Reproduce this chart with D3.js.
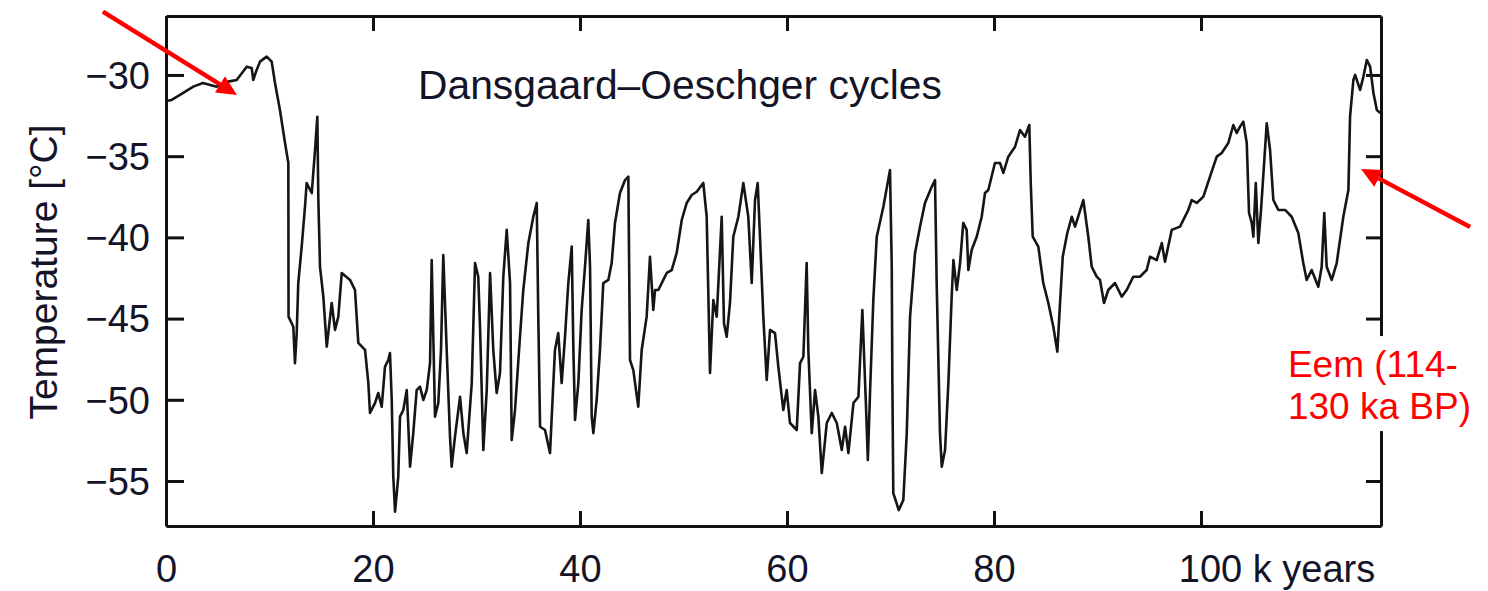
<!DOCTYPE html>
<html>
<head>
<meta charset="utf-8">
<script src="https://cdn.jsdelivr.net/npm/d3@7"></script>
<style>
  html, body { margin: 0; padding: 0; background: #fff; }
  svg { display: block; font-family: "Liberation Sans", Arial, sans-serif; }
</style>
</head>
<body>
<script>
// ice core temperature record (k years BP, deg C)
const years = [
  0,0.55,1.35,2.64,3.57,4.90,5.99,6.83,7.80,8.28,
  8.43,8.76,9.08,9.73,10.21,10.53,11.01,11.50,11.82,11.84,
  12.30,12.46,12.63,12.78,13.11,13.43,13.59,14.08,14.40,14.62,
  14.72,14.88,15.20,15.53,16.01,16.33,16.65,16.98,17.78,18.26,
  18.58,19.23,19.55,19.71,20.19,20.51,20.84,21.16,21.48,21.64,
  21.81,21.96,22.13,22.44,22.61,22.93,23.26,23.58,23.89,24.22,
  24.54,24.86,25.19,25.51,25.67,25.99,26.31,26.57,26.79,27.12,
  27.44,27.60,27.92,28.41,28.73,29.05,29.54,29.86,30.17,30.34,
  30.66,30.99,31.31,31.62,31.95,32.27,32.59,32.92,33.24,33.40,
  33.72,34.20,34.52,35.01,35.49,35.82,35.97,36.14,36.62,37.10,
  37.58,37.90,38.23,38.55,38.87,39.20,39.36,39.52,39.84,40.16,
  40.48,40.80,40.97,41.13,41.29,41.61,41.93,42.25,42.74,43.06,
  43.38,43.86,44.35,44.67,44.83,45.15,45.63,45.96,46.44,46.76,
  47.08,47.25,47.57,48.05,48.38,48.86,49.34,49.83,50.31,50.79,
  51.28,51.91,52.24,52.56,52.88,53.21,53.69,53.91,54.17,54.49,
  54.81,55.30,55.78,56.26,56.59,56.91,57.17,57.39,57.71,58.04,
  58.36,58.84,59.16,59.64,59.97,60.29,60.94,61.26,61.58,61.90,
  62.06,62.39,62.71,63.03,63.36,63.84,64.32,64.81,65.29,65.61,
  65.93,66.42,66.90,67.28,67.61,67.81,68.03,68.34,68.67,69.31,
  69.95,70.12,70.18,70.27,70.80,71.24,71.57,71.89,72.37,72.85,
  73.33,73.98,74.30,74.46,74.78,74.95,75.27,75.59,75.91,76.08,
  76.40,76.72,77.03,77.36,77.52,77.84,78.33,78.81,79.13,79.45,
  80.09,80.58,80.90,81.38,82.03,82.51,82.99,83.41,83.55,83.74,
  84.28,84.76,85.25,85.73,86.12,86.38,86.64,87.08,87.51,87.83,
  88.63,89.11,89.44,89.92,90.24,90.63,91.04,91.69,92.34,92.82,
  93.46,94.11,94.75,95.07,95.72,96.21,96.52,97.17,97.97,98.78,
  99.10,99.59,100.23,100.87,101.52,102.00,102.64,103.12,103.45,103.77,
  104.09,104.42,104.64,104.90,105.06,105.29,105.54,105.80,106.35,106.67,
  106.99,107.47,108.12,108.76,109.40,109.88,110.21,110.69,111.33,111.66,
  111.91,112.14,112.63,113.11,113.75,114.24,114.40,114.72,114.89,115.37,
  115.69,116.02,116.34,116.66,116.99,117.31
];
const temps = [
  -31.60,-31.54,-31.23,-30.72,-30.49,-30.72,-30.41,-30.31,-29.49,-29.57,
  -30.31,-29.69,-29.18,-28.87,-29.18,-30.49,-32.16,-34.19,-35.42,-44.88,
  -45.50,-47.74,-45.89,-42.81,-40.57,-38.11,-36.65,-37.27,-34.62,-32.57,
  -37.70,-41.81,-43.65,-46.73,-44.04,-45.70,-44.88,-42.19,-42.62,-43.24,
  -46.50,-46.93,-48.97,-50.81,-50.20,-49.58,-50.43,-47.96,-47.55,-47.12,
  -50.01,-54.74,-56.89,-54.74,-51.04,-50.63,-49.40,-54.12,-52.05,-49.40,
  -49.19,-50.01,-49.40,-47.74,-41.40,-51.04,-50.20,-46.93,-41.09,-46.93,
  -52.27,-54.12,-52.27,-49.81,-52.05,-53.28,-48.97,-41.58,-42.42,-45.50,
  -53.09,-49.40,-42.19,-46.93,-49.58,-48.35,-42.42,-39.54,-42.81,-52.48,
  -50.63,-46.12,-43.24,-40.35,-38.73,-37.88,-44.88,-51.66,-51.86,-53.28,
  -46.93,-45.89,-48.97,-46.12,-42.81,-40.57,-46.93,-51.24,-48.97,-44.47,
  -41.81,-38.93,-41.81,-51.04,-52.05,-50.01,-46.93,-42.81,-42.62,-41.58,
  -39.11,-37.27,-36.47,-36.26,-47.55,-48.17,-50.43,-46.93,-44.88,-41.19,
  -44.47,-43.24,-43.24,-42.62,-42.19,-42.01,-40.96,-38.93,-37.88,-37.39,
  -37.19,-36.65,-38.73,-48.35,-43.86,-44.88,-38.73,-45.28,-46.12,-44.04,
  -39.96,-38.73,-36.65,-38.73,-42.81,-37.70,-36.65,-39.96,-44.88,-48.78,
  -45.70,-45.89,-47.96,-50.63,-49.40,-51.43,-51.86,-47.74,-47.35,-41.58,
  -46.93,-52.05,-49.40,-51.04,-54.51,-51.43,-50.81,-51.43,-53.09,-51.66,
  -53.28,-50.20,-49.81,-44.47,-50.01,-53.71,-49.40,-43.86,-39.96,-38.11,
  -35.85,-41.81,-48.97,-55.74,-56.79,-56.17,-52.05,-44.88,-40.96,-39.34,
  -37.88,-36.88,-36.47,-42.81,-52.05,-54.12,-53.09,-48.97,-43.65,-41.40,
  -43.24,-41.58,-39.11,-39.54,-42.01,-40.78,-39.96,-38.73,-37.27,-37.08,
  -35.42,-35.42,-36.03,-35.03,-34.42,-33.39,-33.80,-33.08,-36.65,-39.96,
  -40.57,-42.81,-44.04,-45.50,-47.04,-44.04,-41.19,-39.73,-38.73,-39.34,
  -37.70,-39.96,-41.81,-42.42,-42.62,-44.04,-43.24,-42.81,-43.65,-43.24,
  -42.42,-42.42,-42.01,-41.19,-41.40,-40.35,-41.50,-39.54,-39.34,-38.31,
  -37.70,-37.88,-37.49,-36.26,-35.03,-34.80,-34.19,-33.08,-33.57,-33.18,
  -32.88,-34.19,-38.50,-39.11,-39.96,-36.65,-40.35,-38.31,-32.97,-34.62,
  -37.70,-38.31,-38.31,-38.73,-39.73,-41.58,-42.62,-42.01,-43.04,-41.81,
  -38.50,-41.81,-42.62,-41.58,-38.73,-37.08,-32.57,-30.31,-30.00,-30.92,
  -30.10,-29.08,-29.49,-31.11,-32.16,-32.34
];

const xTicks = [0, 20, 40, 60, 80, 100];
const yTicks = [-55, -50, -45, -40, -35, -30];
const xUnit = "k years";
const title = "Dansgaard\u2013Oeschger cycles";
const yLabel = "Temperature [\u00B0C]";
const eemLines = ["Eem (114-", "130 ka BP)"];

// annotation arrows in data coords: [from, to]
const arrows = [
  [[-6.1, -26.1], [6.86, -31.23]],
  [[126.0, -39.36], [115.46, -35.79]]
];
const eemAnchor = [108.4, -48.6];

const W = 1488, H = 591;
const margin = {top: 16, right: 107, bottom: 65, left: 166};
const innerW = W - margin.left - margin.right;
const innerH = H - margin.top - margin.bottom;
const red = "#ff0000";
const ink = "#141428";

const svg = d3.select("body").append("svg")
  .attr("width", W)
  .attr("height", H);

const g = svg.append("g")
  .attr("transform", `translate(${margin.left},${margin.top})`);

const x = d3.scaleLinear().domain([0, 117.39]).range([0, innerW]);
const y = d3.scaleLinear().domain([-57.77, -26.37]).range([innerH, 0]);

const fmt = d3.format("");

// axes, ticks pointing inwards on all four sides
const axisStyle = sel => {
  sel.select(".domain").attr("stroke", "#111").attr("stroke-width", 3);
  sel.selectAll(".tick line").attr("stroke", "#111").attr("stroke-width", 3);
};

const bottom = g.append("g")
  .attr("transform", `translate(0,${innerH})`)
  .call(d3.axisBottom(x).tickValues(xTicks).tickSizeInner(-15).tickSizeOuter(0).tickFormat(fmt))
  .call(axisStyle);
bottom.selectAll(".tick text")
  .attr("y", 56).attr("dy", 0)
  .attr("font-size", 38).attr("fill", ink)
  .attr("font-family", "Liberation Sans, Arial, sans-serif");
bottom.selectAll(".tick text")
  .filter(d => d === xTicks[xTicks.length - 1])
  .each(function(d) {
    const t = d3.select(this);
    t.text(fmt(d) + " " + xUnit).attr("text-anchor", "start");
    const w = this.getSubStringLength(0, fmt(d).length);
    t.attr("x", -w / 2 + 9);
  });

g.append("g")
  .call(d3.axisTop(x).tickValues(xTicks).tickSizeInner(-15).tickSizeOuter(0).tickFormat(""))
  .call(axisStyle);

const left = g.append("g")
  .call(d3.axisLeft(y).tickValues(yTicks).tickSizeInner(-18).tickSizeOuter(0))
  .call(axisStyle);
left.selectAll(".tick text")
  .attr("x", -16).attr("dy", "0.35em")
  .attr("font-size", 38).attr("fill", ink)
  .attr("font-family", "Liberation Sans, Arial, sans-serif");

g.append("g")
  .attr("transform", `translate(${innerW},0)`)
  .call(d3.axisRight(y).tickValues(yTicks).tickSizeInner(-15).tickSizeOuter(0).tickFormat(""))
  .call(axisStyle);

// temperature curve
const line = d3.line()
  .x((d, i) => x(years[i]))
  .y(d => y(d));

g.append("path")
  .datum(temps)
  .attr("fill", "none")
  .attr("stroke", "#151515")
  .attr("stroke-width", 2.6)
  .attr("stroke-linejoin", "round")
  .attr("d", line);

// title inside the plot
svg.append("text")
  .attr("x", 418).attr("y", 99)
  .attr("font-size", 40.8)
  .attr("fill", ink)
  .text(title);

// y axis label
svg.append("text")
  .attr("transform", `translate(57,${margin.top + innerH / 2 + 1}) rotate(-90)`)
  .attr("text-anchor", "middle")
  .attr("font-size", 39)
  .attr("fill", ink)
  .text(yLabel);

// Eem note, white box hides part of the right axis
const note = g.append("g");
const noteBg = note.append("rect").attr("fill", "#fff");
const noteText = note.append("text")
  .attr("x", x(eemAnchor[0]))
  .attr("y", y(eemAnchor[1]))
  .attr("font-size", 37)
  .attr("fill", red);
noteText.selectAll("tspan")
  .data(eemLines)
  .enter().append("tspan")
  .attr("x", x(eemAnchor[0]))
  .attr("dy", (d, i) => i === 0 ? 0 : 42)
  .text(d => d);
const bb = noteText.node().getBBox();
noteBg.attr("x", bb.x - 4).attr("y", bb.y - 8)
  .attr("width", bb.width + 8).attr("height", bb.height + 12);

// red arrows
arrows.forEach(([from, to]) => {
  const x0 = x(from[0]), y0 = y(from[1]);
  const x1 = x(to[0]), y1 = y(to[1]);
  const ang = Math.atan2(y1 - y0, x1 - x0);
  const len = 20, half = 9.5;
  const bx = x1 - len * Math.cos(ang), by = y1 - len * Math.sin(ang);
  g.append("line")
    .attr("x1", x0).attr("y1", y0)
    .attr("x2", bx).attr("y2", by)
    .attr("stroke", red).attr("stroke-width", 4.5);
  const px = -Math.sin(ang) * half, py = Math.cos(ang) * half;
  g.append("path")
    .attr("d", `M${x1},${y1}L${bx + px},${by + py}L${bx - px},${by - py}Z`)
    .attr("fill", red);
});
</script>
</body>
</html>
